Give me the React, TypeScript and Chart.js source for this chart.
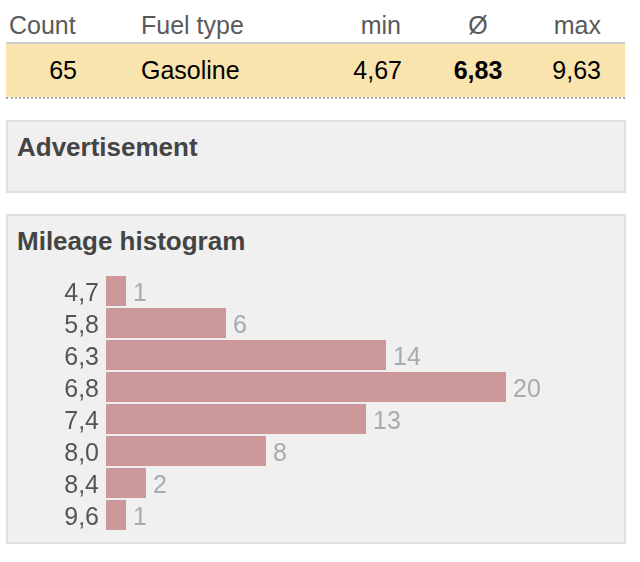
import React, { useEffect, useRef } from "react";
import { Chart, registerables } from "chart.js";

Chart.register(...registerables);

const categories = ["4,7", "5,8", "6,3", "6,8", "7,4", "8,0", "8,4", "9,6"];
const counts = [1, 6, 14, 20, 13, 8, 2, 1];
const tableHeaders = ["Count", "Fuel type", "min", "Ø", "max"];
const tableRow = ["65", "Gasoline", "4,67", "6,83", "9,63"];

const FONT = "'Liberation Sans', Arial, Helvetica, sans-serif";

const labelsPlugin = {
  id: "labelsPlugin",
  afterDatasetsDraw(chart: any) {
    const ctx = chart.ctx;
    const meta = chart.getDatasetMeta(0);
    const yScale = chart.scales.y;
    ctx.save();
    ctx.font = `25px ${FONT}`;
    ctx.textBaseline = "middle";
    // category labels
    ctx.fillStyle = "#555555";
    ctx.textAlign = "right";
    yScale.ticks.forEach((t: any, i: number) => {
      const lbl = yScale.getLabelForValue(t.value);
      ctx.fillText(lbl, yScale.right - 7, yScale.getPixelForTick(i) + 3);
    });
    // value labels
    ctx.fillStyle = "#aaaaaa";
    ctx.textAlign = "left";
    meta.data.forEach((el: any, i: number) => {
      ctx.fillText(String(chart.data.datasets[0].data[i]), el.x + 7, el.y + 3);
    });
    ctx.restore();
  },
};

function Histogram() {
  const ref = useRef<HTMLCanvasElement | null>(null);
  useEffect(() => {
    if (!ref.current) return;
    const chart = new Chart(ref.current, {
      type: "bar",
      data: {
        labels: categories,
        datasets: [
          {
            data: counts,
            backgroundColor: "#cc9899",
            borderWidth: 0,
            barPercentage: 0.9375,
            categoryPercentage: 1,
          },
        ],
      },
      options: {
        indexAxis: "y",
        animation: false,
        responsive: false,
        maintainAspectRatio: false,
        layout: { padding: { top: 0, bottom: 0, right: 34, left: 0 } },
        plugins: { legend: { display: false }, tooltip: { enabled: false } },
        scales: {
          x: { display: false, min: 0, max: 25 },
          y: {
            grid: { display: false, drawTicks: false },
            border: { display: false },
            ticks: {
              autoSkip: false,
              padding: 7,
              color: "rgba(0,0,0,0)",
              font: { family: FONT, size: 25 },
            },
            afterFit: (scale: any) => {
              scale.width = 106;
            },
          },
        },
      },
      plugins: [labelsPlugin],
    });
    return () => chart.destroy();
  }, []);
  return (
    <canvas
      ref={ref}
      width={640}
      height={300}
      style={{ position: "absolute", left: 0, top: 253, width: 640, height: 300 }}
    />
  );
}

const headStyle: React.CSSProperties = {
  position: "absolute",
  top: 11,
  fontFamily: FONT,
  fontSize: 25,
  lineHeight: "28px",
  color: "#5a5a5a",
  whiteSpace: "nowrap",
};
const cellStyle: React.CSSProperties = {
  position: "absolute",
  top: 56,
  fontFamily: FONT,
  fontSize: 25,
  lineHeight: "28px",
  color: "#000",
  whiteSpace: "nowrap",
};
const boxStyle: React.CSSProperties = {
  position: "absolute",
  left: 6,
  width: 616,
  background: "#f0f0f0",
  border: "2px solid #e0e0e0",
};
const titleStyle: React.CSSProperties = {
  position: "absolute",
  left: 17,
  fontFamily: FONT,
  fontSize: 26,
  fontWeight: "bold",
  lineHeight: "29px",
  color: "#444444",
  whiteSpace: "nowrap",
};

export default function App() {
  return (
    <div
      style={{
        position: "absolute",
        left: 0,
        top: 0,
        width: 640,
        height: 562,
        background: "#fff",
        overflow: "hidden",
      }}
    >
      {/* table */}
      <div style={{ ...headStyle, left: 9 }}>{tableHeaders[0]}</div>
      <div style={{ ...headStyle, left: 141 }}>{tableHeaders[1]}</div>
      <div style={{ ...headStyle, right: 640 - 401 }}>{tableHeaders[2]}</div>
      <div style={{ ...headStyle, left: 428, width: 100, textAlign: "center" }}>{tableHeaders[3]}</div>
      <div style={{ ...headStyle, right: 640 - 601 }}>{tableHeaders[4]}</div>
      <div style={{ position: "absolute", left: 6, top: 42, width: 619, height: 2, background: "#cccccc" }} />
      <div
        style={{
          position: "absolute",
          left: 6,
          top: 44,
          width: 619,
          height: 53,
          background: "#f9e4ae",
          backgroundClip: "padding-box",
          borderBottom: "2px dotted #aaaaaa",
        }}
      />
      <div style={{ ...cellStyle, right: 640 - 77 }}>{tableRow[0]}</div>
      <div style={{ ...cellStyle, left: 141 }}>{tableRow[1]}</div>
      <div style={{ ...cellStyle, right: 640 - 402 }}>{tableRow[2]}</div>
      <div style={{ ...cellStyle, left: 428, width: 100, textAlign: "center", fontWeight: "bold" }}>{tableRow[3]}</div>
      <div style={{ ...cellStyle, right: 640 - 601 }}>{tableRow[4]}</div>

      {/* advertisement */}
      <div style={{ ...boxStyle, top: 120, height: 69 }} />
      <div style={{ ...titleStyle, top: 132.5 }}>Advertisement</div>

      {/* histogram */}
      <div style={{ ...boxStyle, top: 214, height: 326 }} />
      <div style={{ ...titleStyle, top: 226.5 }}>Mileage histogram</div>
      <Histogram />
    </div>
  );
}
